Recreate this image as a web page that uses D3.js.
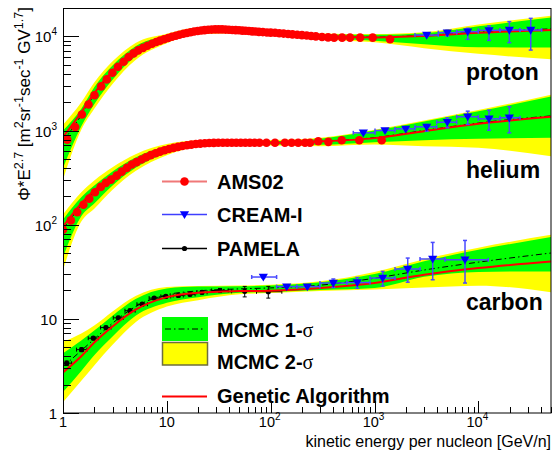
<!DOCTYPE html>
<html lang="en">
<head>
<meta charset="UTF-8">
<title>Proton, helium and carbon spectra</title>
<script src="https://d3js.org/d3.v7.min.js"></script>
<style>
  body { margin: 0; background: #fff; }
  svg { display: block; font-family: "Liberation Sans", Arial, Helvetica, sans-serif; }
</style>
</head>
<body>
<svg id="chart" width="556" height="451"></svg>
<script>
// ---- model curves, given at these kinetic energies (GeV/n) ----
const nodeE = [1, 1.5, 2, 3, 5, 10, 20, 50, 100, 300, 1000, 3000, 10000, 50000];

const protonGA  = [850, 1560, 2500, 4300, 7100, 9750, 11500, 11550, 10950, 10000, 9750, 10100, 10900, 11700];
const protonMC  = [760, 1450, 2380, 4150, 6900, 9550, 11400, 11580, 10950, 10000, 9800, 10250, 11100, 12000];
const proton2lo = [300, 1016, 1698, 3126, 5623, 8472, 10520, 10815, 10209, 9333, 8630, 7482, 6516, 5728];
const proton1lo = [400, 1109, 1905, 3467, 6095, 8872, 10890, 11117, 10495, 9550, 8974, 8241, 7656, 7603];
const proton1hi = [1000, 1706, 2884, 4898, 7852, 10186, 11940, 12078, 11402, 10471, 10399, 10789, 12794, 15849];
const proton2hi = [1150, 1995, 3236, 5433, 8511, 10666, 12360, 12417, 11722, 10715, 10568, 11041, 13335, 16520];

const heliumGA  = [95, 168, 232, 326, 472, 636, 726, 741, 742, 765, 830, 984, 1178, 1400];
const heliumMC  = [90, 160, 225, 318, 465, 630, 724, 743, 745, 770, 840, 1000, 1200, 1430];
const helium2lo = [33, 108, 148, 235, 371, 546, 667, 692, 693, 682, 710, 681, 655, 533];
const helium1lo = [45, 123, 168, 261, 402, 578, 690, 711, 712, 706, 751, 789, 816, 836];
const helium1hi = [113, 195, 260, 368, 518, 679, 757, 773, 774, 820, 1000, 1250, 1600, 2300];
const helium2hi = [128, 221, 295, 408, 561, 719, 783, 794, 795, 840, 1020, 1280, 1650, 2400];

const carbonGA  = [2.7, 4.0, 5.6, 8.3, 12.5, 17.0, 18.9, 19.7, 19.9, 21.2, 24.0, 29.4, 34.6, 40.7];
const carbonMC  = [3.1, 4.6, 6.1, 9.0, 13.5, 18.0, 19.8, 20.8, 21.3, 22.8, 27, 33, 40, 50];
const carbon2lo = [1.3, 2.2, 3.2, 5.3, 9.2, 13.5, 15.8, 18.2, 18.8, 19.8, 20.5, 21.5, 22.5, 19.1];
const carbon1lo = [1.67, 2.8, 4.1, 6.5, 10.8, 14.8, 17.0, 18.9, 19.3, 20.3, 21.3, 28, 31.5, 31.9];
const carbon1hi = [4.3, 5.9, 7.5, 10.8, 16.2, 21.0, 22.0, 22.2, 22.6, 24.5, 30, 41, 54, 74];
const carbon2hi = [5.7, 7.0, 8.5, 12.0, 17.5, 21.8, 22.3, 22.6, 23.0, 25.0, 31.5, 43, 57, 78];

// ---- AMS02 ----
const amsPE = [1.10,1.31,1.52,1.76,2.01,2.33,2.64,2.99,3.38,3.83,4.28,4.78,5.3,5.9,6.5,7.2,7.9,8.6,9.4,10.3,
  11.2,12.2,13.2,14.4,15.6,16.9,18.3,19.8,21.4,23.1,25,27,29.2,31.5,34,36.7,39.6,42.7,46,49.5,
  53.3,57.3,61.7,66.3,71.3,77,84,92,100,110,121,133,147,162,180,200,222,245,272,312,357,408,487,581,726,960,1410];
const amsPV = [800,1090,1480,1890,2370,2940,3490,4110,4760,5380,6030,6590,7100,7550,7950,8350,8700,9000,9300,9600,
  9900,10150,10400,10650,10850,11050,11250,11400,11550,11650,11750,11800,11850,11850,11850,11800,11750,11700,11650,11600,
  11500,11450,11400,11300,11250,11150,11100,11000,10950,10900,10800,10700,10600,10500,10400,10300,10200,10100,10000,9850,
  9750,9700,9700,9700,9700,9700,9300];
const amsHeE = [1.0,1.19,1.37,1.57,1.79,2.03,2.31,2.59,2.90,3.29,3.68,4.12,4.60,5.1,5.7,6.3,7.0,7.8,8.6,9.5,
  10.5,11.6,12.8,14.1,15.6,17.2,19,21,23.2,25.6,28.3,31.3,34.6,38.2,42.2,46.6,51.5,57,63,70,
  78,91,110,137,159,184,214,239,287,359,483,713,1172];
const amsHeV = [88.5,111,136,163,189,221,252,278,301,332,366,401,435,462,492,520,548,574,596,616,
  636,654,670,684,697,708,718,726,732,736,739,740,741,741,741,741,741,741,741,741,
  741,740,740,740,740,740,740,740,769,758,789,789,789];

// ---- CREAM-I ----
const creamPE   = [3177, 5020, 7890, 12650, 19850, 31900];
const creamPV   = [10320, 10940, 11220, 11580, 11670, 11670];
const creamPElo = [2450, 4110, 6180, 9980, 16140, 25150];
const creamPEhi = [4110, 6180, 9980, 16140, 25150, 40650];
const creamPVlo = [10000, 10070, 9290, 9060, 8570, 7150];
const creamPVhi = [10650, 11580, 12170, 12880, 14330, 15530];

const creamHeE   = [780, 1261, 1995, 3177, 5020, 7890, 12650, 19850];
const creamHeV   = [945, 1000, 1042, 1094, 1225, 1400, 1331, 1365];
const creamHeElo = [624, 1010, 1574, 2450, 3965, 6180, 9980, 16140];
const creamHeEhi = [1010, 1574, 2450, 3965, 6180, 9980, 16140, 25150];
const creamHeVlo = [915, 965, 1000, 984, 1069, 1159, 1007, 945];
const creamHeVhi = [975, 1035, 1085, 1159, 1365, 1604, 1644, 1786];

const creamCE   = [84.9, 142.6, 225, 401, 682, 1197, 2086, 3630, 7430];
const creamCV   = [27.8, 22.0, 22.0, 24.0, 24.3, 27.1, 33.8, 43.2, 42.4];
const creamCElo = [65.6, 114, 178, 298, 540, 904, 1574, 2740, 4770];
const creamCEhi = [114, 178, 298, 540, 904, 1574, 2740, 4770, 12440];
const creamCVlo = [27.0, 21.2, 21.1, 21.5, 21.1, 22.3, 24.5, 26.0, 24.0];
const creamCVhi = [28.6, 22.8, 22.9, 26.5, 27.5, 31.9, 44.2, 64.8, 68.0];

// ---- PAMELA carbon ----
const pamE   = [1.085, 1.51, 1.96, 2.59, 3.41, 4.42, 5.79, 7.55, 9.77, 12.9, 16.7, 21.8, 32.5, 56.2, 94.8];
const pamV   = [3.38, 4.71, 6.23, 8.08, 10.25, 12.2, 14.3, 16.6, 17.3, 17.7, 18.2, 19.1, 20.0, 19.6, 19.4];
const pamElo = [0.97, 1.35, 1.75, 2.3, 3.05, 3.95, 5.15, 6.75, 8.75, 11.5, 14.9, 19.4, 27, 42, 73];
const pamEhi = [1.21, 1.7, 2.2, 2.9, 3.8, 4.95, 6.5, 8.45, 10.9, 14.4, 18.7, 24.4, 39, 73, 128];
const pamVlo = [3.2, 4.5, 6.0, 7.8, 9.85, 11.75, 13.8, 16.0, 16.7, 17.1, 17.5, 18.3, 19.0, 17.1, 16.6];
const pamVhi = [3.56, 4.92, 6.46, 8.36, 10.65, 12.65, 14.8, 17.2, 17.9, 18.3, 18.9, 19.9, 21.0, 22.1, 22.1];

const species = ["proton", "helium", "carbon"];
const speciesY = [80, 178, 310];

// ---- drawing ----
const svg = d3.select("#chart");
const x = d3.scaleLog().domain([1, 5e4]).range([63, 551]);
const y = d3.scaleLog().domain([1, 2e4]).range([413, 8]);

svg.append("rect").attr("width", 556).attr("height", 451).attr("fill", "#fff");
svg.append("defs").append("clipPath").attr("id", "clip")
  .append("rect").attr("x", 63).attr("y", 8).attr("width", 488).attr("height", 405);

const plot = svg.append("g").attr("clip-path", "url(#clip)");

function band(lo, hi, color) {
  const area = d3.area()
    .x((d, i) => x(nodeE[i]))
    .y0((d, i) => y(lo[i]))
    .y1((d, i) => y(hi[i]))
    .curve(d3.curveMonotoneX);
  plot.append("path").datum(nodeE).attr("d", area).attr("fill", color);
}

function curve(vals, color, width, dash) {
  const line = d3.line()
    .x((d, i) => x(nodeE[i]))
    .y((d, i) => y(vals[i]))
    .curve(d3.curveMonotoneX);
  plot.append("path").datum(nodeE).attr("d", line)
    .attr("fill", "none").attr("stroke", color).attr("stroke-width", width)
    .attr("stroke-dasharray", dash || null);
}

function errors(E, V, Elo, Ehi, Vlo, Vhi, color, width, cap) {
  const g = plot.append("g").attr("stroke", color).attr("stroke-width", width);
  E.forEach((e, i) => {
    const cx = x(e), cy = y(V[i]);
    const x0 = x(Elo[i]), x1 = x(Ehi[i]), y0 = y(Vlo[i]), y1 = y(Vhi[i]);
    g.append("line").attr("x1", x0).attr("x2", x1).attr("y1", cy).attr("y2", cy);
    g.append("line").attr("x1", cx).attr("x2", cx).attr("y1", y0).attr("y2", y1);
    g.append("line").attr("x1", x0).attr("x2", x0).attr("y1", cy - cap).attr("y2", cy + cap);
    g.append("line").attr("x1", x1).attr("x2", x1).attr("y1", cy - cap).attr("y2", cy + cap);
    g.append("line").attr("x1", cx - cap).attr("x2", cx + cap).attr("y1", y0).attr("y2", y0);
    g.append("line").attr("x1", cx - cap).attr("x2", cx + cap).attr("y1", y1).attr("y2", y1);
  });
}

const triDown = "M-4.6,-3.2L4.6,-3.2L0,4.6Z";

// bands
band(proton2lo, proton2hi, "#ffff00");
band(proton1lo, proton1hi, "#00ff00");
band(helium2lo, helium2hi, "#ffff00");
band(helium1lo, helium1hi, "#00ff00");
band(carbon2lo, carbon2hi, "#ffff00");
band(carbon1lo, carbon1hi, "#00ff00");

// MCMC centre lines
[protonMC, heliumMC, carbonMC].forEach(v => curve(v, "#000", 1, "6,3,1.5,3"));

// PAMELA
errors(pamE, pamV, pamElo, pamEhi, pamVlo, pamVhi, "#000", 1, 2);
plot.selectAll("circle.pam").data(pamE).enter().append("circle")
  .attr("class", "pam").attr("cx", d => x(d)).attr("cy", (d, i) => y(pamV[i]))
  .attr("r", 2.6).attr("fill", "#000");

// Genetic algorithm
[protonGA, heliumGA, carbonGA].forEach(v => curve(v, "#ff0000", 2));

// AMS02
[[amsPE, amsPV], [amsHeE, amsHeV]].forEach(([E, V]) => {
  plot.append("g").selectAll("circle").data(E).enter().append("circle")
    .attr("cx", d => x(d)).attr("cy", (d, i) => y(V[i]))
    .attr("r", 4.3).attr("fill", "#ff0000");
});

// CREAM-I
[[creamPE, creamPV, creamPElo, creamPEhi, creamPVlo, creamPVhi],
 [creamHeE, creamHeV, creamHeElo, creamHeEhi, creamHeVlo, creamHeVhi],
 [creamCE, creamCV, creamCElo, creamCEhi, creamCVlo, creamCVhi]].forEach(s => {
  errors(s[0], s[1], s[2], s[3], s[4], s[5], "#4a4aff", 1.5, 2);
  plot.append("g").selectAll("path").data(s[0]).enter().append("path")
    .attr("d", triDown)
    .attr("transform", (d, i) => `translate(${x(d)},${y(s[1][i])})`)
    .attr("fill", "#0000ff");
});

// ---- axes ----
const axes = svg.append("g").attr("stroke", "#000").attr("stroke-width", 1);
x.ticks().forEach(t => {
  const major = Math.abs(Math.log10(t) % 1) < 1e-9;
  const px = Math.round(x(t)) + 0.5;
  axes.append("line").attr("x1", px).attr("x2", px).attr("y1", 413).attr("y2", 413 - (major ? 12 : 6));
});
y.ticks().forEach(t => {
  const major = Math.abs(Math.log10(t) % 1) < 1e-9;
  const py = Math.round(y(t)) + 0.5;
  axes.append("line").attr("x1", 63).attr("x2", 63 + (major ? 16 : 8)).attr("y1", py).attr("y2", py);
});
svg.append("rect").attr("x", 63.5).attr("y", 8.5).attr("width", 487.5).attr("height", 404.5)
  .attr("fill", "none").attr("stroke", "#000").attr("stroke-width", 1);

function powLabel(t, k) {
  if (k === 0) { t.text("1"); return; }
  t.append("tspan").text("10");
  if (k > 1) t.append("tspan").attr("dy", -7).attr("font-size", 10).text(k);
}
const decades = [0, 1, 2, 3, 4];
decades.forEach(k => {
  const tx = svg.append("text").attr("x", x(Math.pow(10, k)) - (k > 1 ? 1 : 0)).attr("y", 427)
    .attr("text-anchor", "middle").attr("font-size", 14.5);
  powLabel(tx, k);
  const ty = svg.append("text").attr("x", 57).attr("y", y(Math.pow(10, k)) + 6)
    .attr("text-anchor", "end").attr("font-size", 15);
  powLabel(ty, k);
});

svg.append("text").attr("x", 551).attr("y", 446.5).attr("text-anchor", "end")
  .attr("font-size", 16).text("kinetic energy per nucleon [GeV/n]");

const yt = svg.append("text").attr("transform", "translate(30,7) rotate(-90)")
  .attr("text-anchor", "end").attr("font-size", 17);
[["Φ*E", 0], ["2.7", 1], [" [m", 0], ["2", 1], ["sr", 0], ["-1", 1], ["sec", 0], ["-1", 1],
 [" GV", 0], ["1.7", 1], ["]", 0]].forEach(([s, sup], i, arr) => {
  const prevSup = i > 0 && arr[i - 1][1];
  yt.append("tspan").attr("dy", sup ? -7 : (prevSup ? 7 : 0))
    .attr("font-size", sup ? 12.5 : 17).text(s);
});

// species labels
species.forEach((s, i) => {
  svg.append("text").attr("x", 466).attr("y", speciesY[i])
    .attr("font-size", 23).attr("font-weight", "bold").text(s);
});

// ---- legend ----
const lg = svg.append("g");
const lx0 = 162, lx1 = 207, lmid = 184.5, ltx = 217;
lg.append("line").attr("x1", lx0).attr("x2", lx1).attr("y1", 181.5).attr("y2", 181.5)
  .attr("stroke", "#f07878").attr("stroke-width", 2);
lg.append("circle").attr("cx", lmid).attr("cy", 181.5).attr("r", 4.3).attr("fill", "#ff0000");
lg.append("line").attr("x1", lx0).attr("x2", lx1).attr("y1", 214.5).attr("y2", 214.5)
  .attr("stroke", "#3f3fff").attr("stroke-width", 1.5);
lg.append("path").attr("d", triDown).attr("transform", `translate(${lmid},214.5)`).attr("fill", "#0000ff");
lg.append("line").attr("x1", lx0).attr("x2", lx1).attr("y1", 248.5).attr("y2", 248.5)
  .attr("stroke", "#000").attr("stroke-width", 1.5);
lg.append("circle").attr("cx", lmid).attr("cy", 248.5).attr("r", 2.6).attr("fill", "#000");
lg.append("rect").attr("x", lx0).attr("y", 317).attr("width", 46).attr("height", 24).attr("fill", "#00ff00");
lg.append("line").attr("x1", lx0 + 3).attr("x2", lx1 - 2).attr("y1", 329).attr("y2", 329)
  .attr("stroke", "#000").attr("stroke-width", 1).attr("stroke-dasharray", "6,3,1.5,3");
lg.append("rect").attr("x", lx0 + 0.5).attr("y", 342.5).attr("width", 45).attr("height", 22.5)
  .attr("fill", "#ffff00").attr("stroke", "#6e6e3c").attr("stroke-width", 1.5);
lg.append("line").attr("x1", lx0).attr("x2", lx1).attr("y1", 396.5).attr("y2", 396.5)
  .attr("stroke", "#ff0000").attr("stroke-width", 2);

function legText(yb, main, sigma) {
  const t = lg.append("text").attr("x", ltx).attr("y", yb)
    .attr("font-size", 20).attr("font-weight", "bold").text(main);
  if (sigma) t.append("tspan").attr("font-family", "'Liberation Serif', 'Times New Roman', serif")
    .attr("font-weight", "normal").text("σ");
}
legText(189, "AMS02");
legText(222, "CREAM-I");
legText(256, "PAMELA");
legText(336.5, "MCMC 1-", true);
legText(369, "MCMC 2-", true);
legText(403, "Genetic Algorithm");
</script>
</body>
</html>
